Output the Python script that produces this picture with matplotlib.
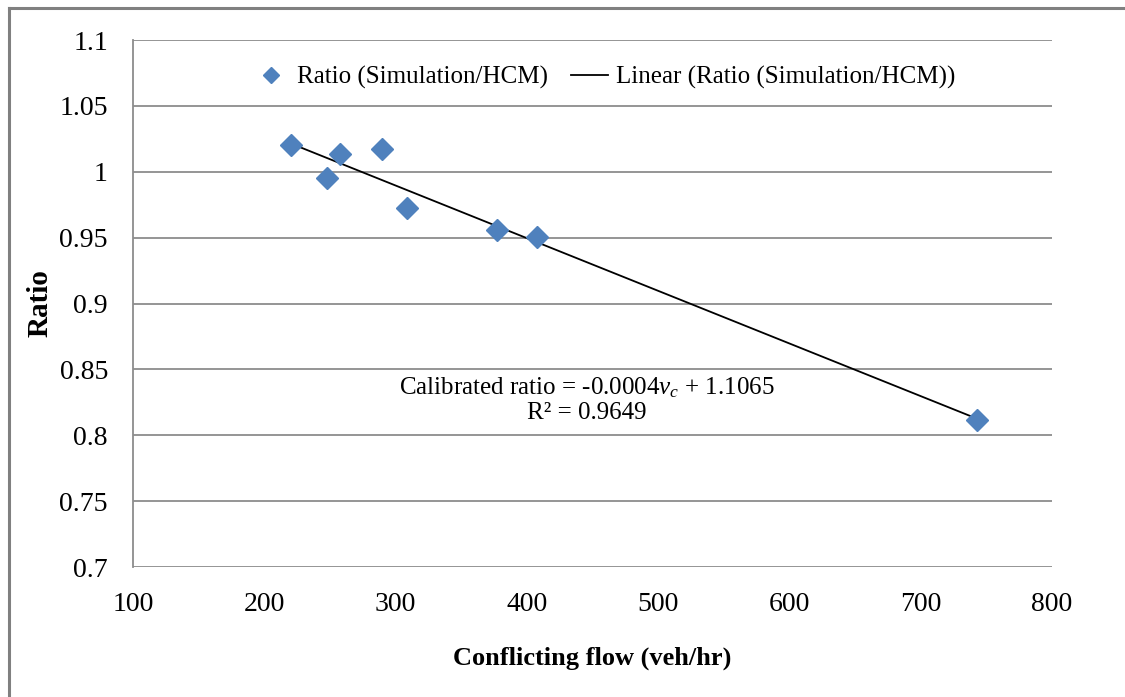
import numpy as np
import matplotlib
matplotlib.use("Agg")
import matplotlib.pyplot as plt
from matplotlib.lines import Line2D

# data
flow = [220, 248, 258, 290, 309, 377, 408, 743]
ratio = [1.020, 0.995, 1.0135, 1.017, 0.9725, 0.9555, 0.9505, 0.8115]

xticks = [100, 200, 300, 400, 500, 600, 700, 800]
yticks = [0.7, 0.75, 0.8, 0.85, 0.9, 0.95, 1.0, 1.05, 1.1]
ytick_labels = ["0.7", "0.75", "0.8", "0.85", "0.9", "0.95", "1", "1.05", "1.1"]

plt.rcParams['font.family'] = ['Liberation Serif', 'DejaVu Serif']
plt.rcParams['mathtext.fontset'] = 'custom'
plt.rcParams['mathtext.rm'] = 'Liberation Serif'
plt.rcParams['mathtext.it'] = 'Liberation Serif:italic'

blue = '#4F81BD'
grid = '#8C8C8C'

fig = plt.figure(figsize=(11.25, 6.97), dpi=100)
ax = fig.add_axes([0.1182, 0.1865, 0.8169, 0.7561])

# outer chart border (left and top only visible)
fig.add_artist(Line2D([0.008, 0.008], [0.0, 0.989], color='#808080', lw=2.2))
fig.add_artist(Line2D([0.008, 1.0], [0.989, 0.989], color='#808080', lw=2.2))

# trend line from a linear fit
coef = np.polyfit(flow, ratio, 1)
xs = np.array([min(flow), max(flow)])
ax.plot(xs, np.polyval(coef, xs), color='black', lw=1.3, zorder=2,
        label='Linear (Ratio (Simulation/HCM))')
ax.plot(flow, ratio, linestyle='none', marker='D', ms=11.5, color=blue,
        mec=blue, zorder=3, label='Ratio (Simulation/HCM)')

ax.set_xlim(100, 800)
ax.set_ylim(0.7, 1.1)
ax.set_xticks(xticks)
ax.set_yticks(yticks)
ax.set_yticklabels(ytick_labels)
ax.tick_params(length=0, labelsize=20, pad=18)
ax.yaxis.grid(True, color=grid, lw=1.3)
ax.set_axisbelow(True)
for s in ['top', 'right', 'bottom']:
    ax.spines[s].set_visible(False)
ax.spines['left'].set_color(grid)
ax.spines['left'].set_linewidth(1.3)

ax.set_xlabel('Conflicting flow (veh/hr)', fontsize=19, fontweight='bold', labelpad=21)
ax.set_ylabel('Ratio', fontsize=21, fontweight='bold')
ax.yaxis.set_label_coords(-0.086, 0.5)

h, l = ax.get_legend_handles_labels()
leg = ax.legend([h[1], h[0]], [l[1], l[0]], loc='center', bbox_to_anchor=(0.512, 0.928),
                ncol=2, frameon=False, fontsize=18, markerscale=0.7,
                handlelength=1.5, columnspacing=0.9, handletextpad=0.3)

ax.text(446, 0.827, 'Calibrated ratio = -0.0004$v_c$ + 1.1065\nR\u00b2 = 0.9649',
        ha='center', va='center', fontsize=18, linespacing=1.12)

fig.savefig('out.png', dpi=100)
